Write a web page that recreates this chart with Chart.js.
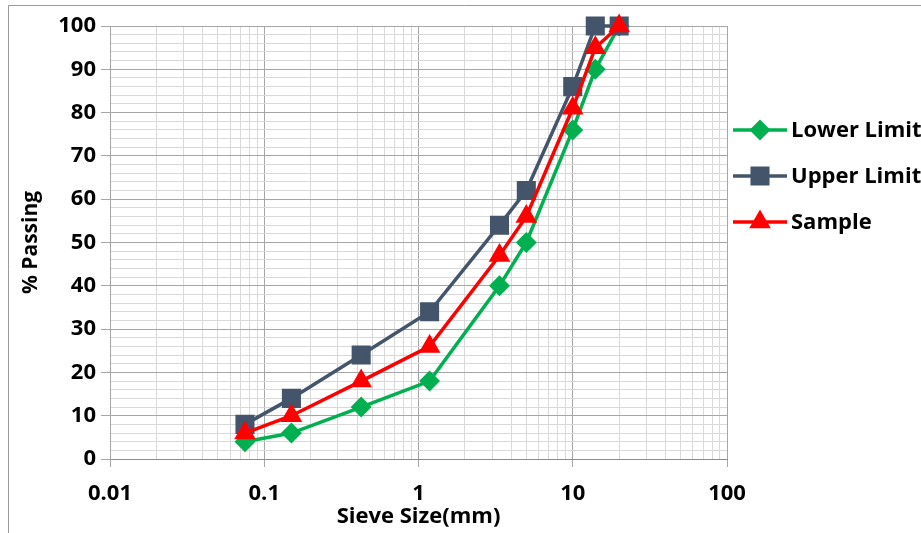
<!DOCTYPE html>
<html>
<head>
<meta charset="utf-8">
<script src="https://cdn.jsdelivr.net/npm/chart.js@4.4.1/dist/chart.umd.min.js"></script>
<style>
  html, body { margin: 0; padding: 0; background: #fff; }
  #wrap { width: 921px; height: 533px; }
</style>
</head>
<body>
<div id="wrap"><canvas id="gradChart" width="921" height="533"></canvas></div>
<script>
// sieve sizes (mm) and % passing
const sieveSizes = [0.075, 0.15, 0.425, 1.18, 3.35, 5, 10, 14, 20];
const lowerLimit = [4, 6, 12, 18, 40, 50, 76, 90, 100];
const upperLimit = [8, 14, 24, 34, 54, 62, 86, 100, 100];
const sample = [6, 10, 18, 26, 47, 56, 81, 95, 100];
const xDecades = [0.01, 0.1, 1, 10, 100];

const FONT = "'Open Sans', Lato, sans-serif";
const MAJOR = "#A6A6A6";
const MINOR = "#D9D9D9";

function toPoints(vals) {
  return sieveSizes.map((s, i) => ({ x: s, y: vals[i] }));
}

function isDecade(v) {
  const l = Math.log10(v);
  return Math.abs(l - Math.round(l)) < 1e-9;
}

// frame round the picture
const framePlugin = {
  id: "frame",
  beforeDraw(chart) {
    const ctx = chart.ctx;
    ctx.save();
    ctx.strokeStyle = "#9A9A9A";
    ctx.lineWidth = 1;
    ctx.beginPath();
    ctx.moveTo(8.5, 533);
    ctx.lineTo(8.5, 5.5);
    ctx.lineTo(921, 5.5);
    ctx.stroke();
    ctx.restore();
  }
};

// legend with line + marker, like the spreadsheet one
const sideLegend = {
  id: "sideLegend",
  afterDraw(chart) {
    const ctx = chart.ctx;
    chart.data.datasets.forEach((ds, i) => {
      const y = 130 + i * 46;
      ctx.save();
      ctx.strokeStyle = ds.borderColor;
      ctx.lineWidth = ds.borderWidth;
      ctx.beginPath();
      ctx.moveTo(733, y);
      ctx.lineTo(787, y);
      ctx.stroke();
      ctx.fillStyle = ds.pointBackgroundColor;
      ctx.strokeStyle = ds.pointBorderColor;
      Chart.helpers.drawPoint(ctx, {
        pointStyle: ds.pointStyle,
        radius: ds.pointRadius,
        rotation: 0,
        borderWidth: 1
      }, 760, y);
      ctx.fillStyle = "#000";
      ctx.font = "bold 22px " + FONT;
      ctx.textAlign = "left";
      ctx.textBaseline = "middle";
      ctx.fillText(ds.label, 791, y + 1);
      ctx.restore();
    });
  }
};

const ctx = document.getElementById("gradChart").getContext("2d");
const gradChart = new Chart(ctx, {
  type: "line",
  data: {
    datasets: [
      {
        label: "Lower Limit",
        data: toPoints(lowerLimit),
        borderColor: "#00B050",
        borderWidth: 3.5,
        pointStyle: "rectRot",
        pointRadius: 8,
        pointBackgroundColor: "#00B050",
        pointBorderColor: "#00B050",
        order: 3,
        clip: false
      },
      {
        label: "Upper Limit",
        data: toPoints(upperLimit),
        borderColor: "#44546A",
        borderWidth: 3.5,
        pointStyle: "rect",
        pointRadius: 11,
        pointBackgroundColor: "#44546A",
        pointBorderColor: "#44546A",
        order: 2,
        clip: false
      },
      {
        label: "Sample",
        data: toPoints(sample),
        borderColor: "#FF0000",
        borderWidth: 3.5,
        pointStyle: "triangle",
        pointRadius: 9,
        pointBackgroundColor: "#FF0000",
        pointBorderColor: "#FF0000",
        order: 1,
        clip: false
      }
    ]
  },
  options: {
    responsive: false,
    animation: false,
    events: [],
    layout: { padding: { top: 26, right: 194, left: 18, bottom: 0 } },
    plugins: {
      legend: { display: false },
      tooltip: { enabled: false }
    },
    scales: {
      x: {
        type: "logarithmic",
        min: 0.01,
        max: 100,
        afterBuildTicks(scale) {
          const t = [];
          for (let d = 0; d < xDecades.length - 1; d++) {
            for (let s = 1; s <= 9; s++) {
              t.push({ value: Number((s * xDecades[d]).toPrecision(3)) });
            }
          }
          t.push({ value: xDecades[xDecades.length - 1] });
          scale.ticks = t;
        },
        afterFit(scale) { scale.height = 74; },
        ticks: {
          autoSkip: false,
          maxRotation: 0,
          padding: 14,
          color: "#000",
          font: { family: FONT, size: 22, weight: "bold" },
          callback: (v) => (isDecade(v) ? String(v) : "")
        },
        grid: {
          color: (c) => (c.tick && isDecade(c.tick.value) ? MAJOR : MINOR),
          tickColor: (c) => (c.tick && isDecade(c.tick.value) ? MAJOR : "rgba(0,0,0,0)"),
          tickLength: 8,
          lineWidth: 1
        },
        border: { color: "#8C8C8C", width: 1 },
        title: {
          display: true,
          text: "Sieve Size(mm)",
          color: "#000",
          padding: { top: 0, bottom: 3 },
          font: { family: FONT, size: 22, weight: "bold" }
        }
      },
      y: {
        min: 0,
        max: 100,
        afterFit(scale) { scale.width = 92; },
        ticks: {
          stepSize: 2,
          autoSkip: false,
          padding: 5,
          color: "#000",
          font: { family: FONT, size: 22, weight: "bold" },
          callback: (v) => (v % 10 === 0 ? String(v) : "")
        },
        grid: {
          color: (c) => (c.tick && c.tick.value % 10 === 0 ? MAJOR : MINOR),
          tickColor: (c) => (c.tick && c.tick.value % 10 === 0 ? MAJOR : "rgba(0,0,0,0)"),
          tickLength: 9,
          lineWidth: 1
        },
        border: { color: "#A6A6A6", width: 1 },
        title: {
          display: true,
          text: "% Passing",
          color: "#000",
          padding: { top: 0, bottom: 0 },
          font: { family: FONT, size: 21, weight: "bold" }
        }
      }
    }
  },
  plugins: [framePlugin, sideLegend]
});
</script>
</body>
</html>
